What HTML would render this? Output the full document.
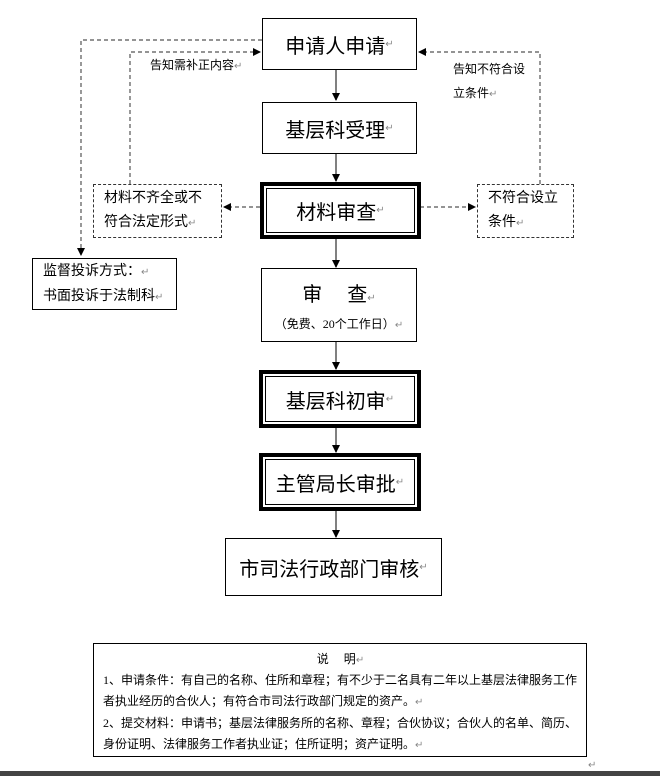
<!DOCTYPE html>
<html><head><meta charset="utf-8"><style>
body{margin:0;width:660px;height:776px;background:#fff;position:relative;overflow:hidden;font-family:"Liberation Serif","Noto Sans CJK SC",sans-serif;color:#000}
.b{position:absolute;box-sizing:border-box;border:1px solid #000;background:#fff;display:flex;align-items:center;justify-content:center;text-align:center}
.d{outline:4px solid #000;outline-offset:-4px;border:none}
.d::after{content:"";position:absolute;left:6px;top:6px;right:6px;bottom:6px;border:1px solid #000}
.dash{border:1px dashed #333}
.blk{display:block;text-align:left}
.t{position:absolute;font-size:12px;line-height:20px}
.r{color:#888;font-size:10px}
</style></head><body>
<svg width="660" height="776" style="position:absolute;left:0;top:0">
<defs><marker id="a" markerWidth="8" markerHeight="8" refX="7" refY="4" orient="auto" markerUnits="userSpaceOnUse"><path d="M0,0L8,4L0,8z" fill="#000"/></marker></defs>
<g stroke="#555" stroke-width="1.5" fill="none">
<line x1="336" y1="70" x2="336" y2="100" marker-end="url(#a)"/>
<line x1="336" y1="154" x2="336" y2="181" marker-end="url(#a)"/>
<line x1="336" y1="239" x2="336" y2="267" marker-end="url(#a)"/>
<line x1="336" y1="342" x2="336" y2="369" marker-end="url(#a)"/>
<line x1="336" y1="428" x2="336" y2="452" marker-end="url(#a)"/>
<line x1="336" y1="511" x2="336" y2="537" marker-end="url(#a)"/>
</g>
<g stroke="#555" stroke-width="1.2" fill="none" stroke-dasharray="4,3">
<polyline points="262,40 81,40 81,255" marker-end="url(#a)"/>
<polyline points="130,184 130,52 260,52" marker-end="url(#a)"/>
<polyline points="540,184 540,52 419,52" marker-end="url(#a)"/>
<line x1="260" y1="207" x2="224" y2="207" marker-end="url(#a)"/>
<line x1="420" y1="207" x2="475" y2="207" marker-end="url(#a)"/>
</g>
<rect x="0" y="771" width="660" height="5" fill="#444"/>
</svg>
<div class="b" style="left:262px;top:18px;width:155px;height:52px;font-size:20px">申请人申请<span class="r">↵</span></div>
<div class="b" style="left:262px;top:102px;width:155px;height:52px;font-size:20px">基层科受理<span class="r">↵</span></div>
<div class="b d" style="left:260px;top:182px;width:161px;height:57px;font-size:20px">材料审查<span class="r">↵</span></div>
<div class="b" style="left:261px;top:268px;width:156px;height:74px;flex-direction:column"><div style="font-size:20px">审　 查<span class="r">↵</span></div><div style="font-size:12px;margin-top:8px">（免费、20个工作日）<span class="r">↵</span></div></div>
<div class="b d" style="left:259px;top:370px;width:162px;height:58px;font-size:20px">基层科初审<span class="r">↵</span></div>
<div class="b d" style="left:259px;top:453px;width:162px;height:58px;font-size:20px">主管局长审批<span class="r">↵</span></div>
<div class="b" style="left:225px;top:538px;width:217px;height:58px;font-size:20px">市司法行政部门审核<span class="r">↵</span></div>
<div class="b dash blk" style="left:93px;top:184px;width:129px;height:54px;font-size:14px;padding:2px 0 0 10px;line-height:24px;white-space:nowrap">材料不齐全或不<br>符合法定形式<span class="r">↵</span></div>
<div class="b dash blk" style="left:477px;top:184px;width:97px;height:54px;font-size:14px;padding:2px 0 0 10px;line-height:24px;white-space:nowrap">不符合设立<br>条件<span class="r">↵</span></div>
<div class="b blk" style="left:32px;top:258px;width:145px;height:52px;font-size:14px;padding:1px 0 0 10px;line-height:24px;white-space:nowrap">监督投诉方式：<span class="r">↵</span><br>书面投诉于法制科<span class="r">↵</span></div>
<div class="t" style="left:150px;top:55px">告知需补正内容<span class="r">↵</span></div>
<div class="t" style="left:453px;top:57px;line-height:24px">告知不符合设<br>立条件<span class="r">↵</span></div>
<div class="b blk" style="left:93px;top:643px;width:494px;height:114px;padding:6px 8px 0 9px;font-size:12px;line-height:21px">
<div style="text-align:center;line-height:18px">说　 明<span class="r">↵</span></div>
1、申请条件：有自己的名称、住所和章程；有不少于二名具有二年以上基层法律服务工作者执业经历的合伙人；有符合市司法行政部门规定的资产。<span class="r">↵</span><br>
2、提交材料：申请书；基层法律服务所的名称、章程；合伙协议；合伙人的名单、简历、身份证明、法律服务工作者执业证；住所证明；资产证明。<span class="r">↵</span>
</div>
<div class="t r" style="left:588px;top:756px">↵</div>
</body></html>
